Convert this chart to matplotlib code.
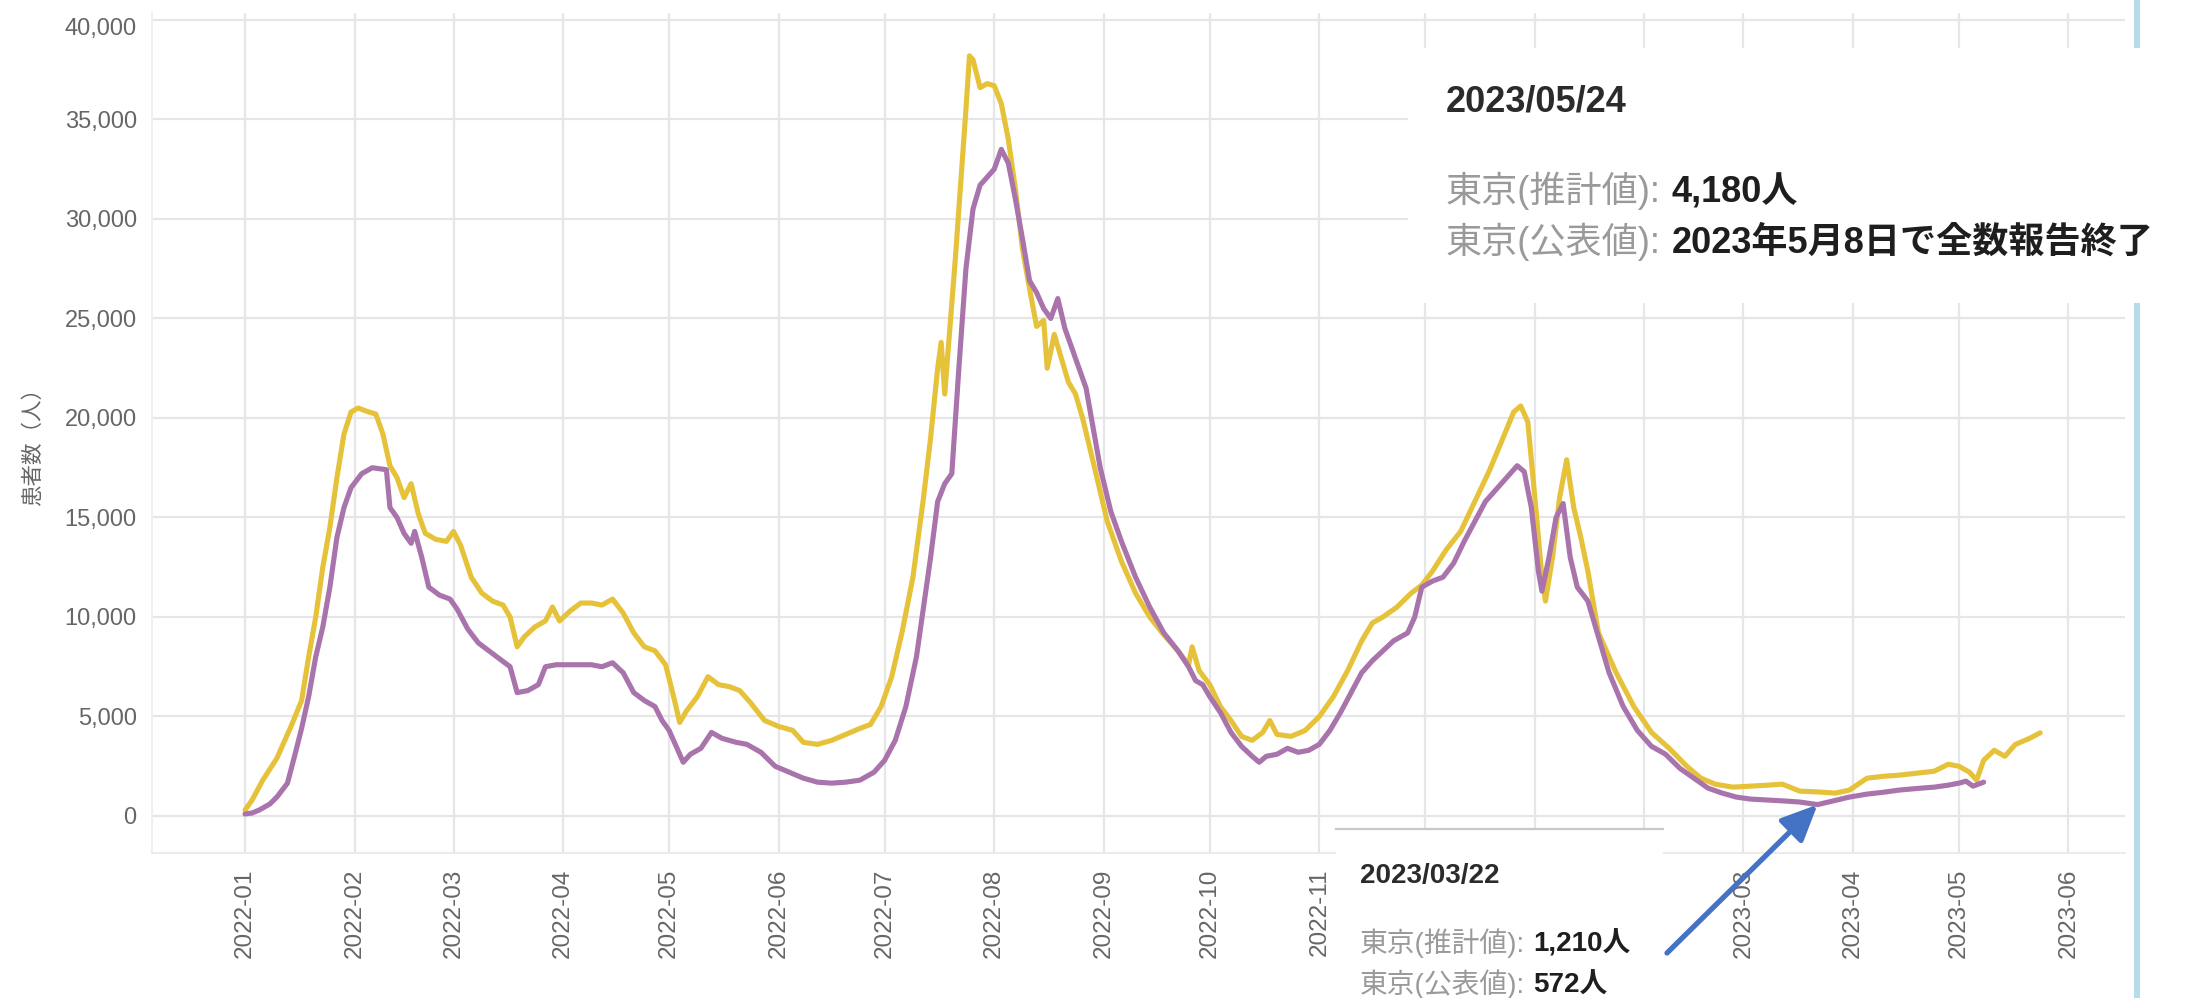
import matplotlib
matplotlib.use("Agg")
import matplotlib.pyplot as plt
import matplotlib.dates as mdates
from matplotlib.patches import Rectangle
from matplotlib.lines import Line2D
from matplotlib.text import Annotation
from matplotlib.ticker import FuncFormatter
from matplotlib.transforms import ScaledTranslation
import pandas as pd

FONTS = ["Liberation Sans", "Noto Sans CJK JP", "DejaVu Sans"]
plt.rcParams["font.family"] = FONTS

START = pd.Timestamp("2022-01-01")

# 東京(推計値): day offset from 2022-01-01 and patient count
est_days = [0, 2, 5, 9, 13, 16, 18, 20, 22, 24, 26, 28, 30, 32, 35, 37, 39, 41, 43, 45,
            47, 49, 51, 54, 57, 59, 61, 64, 67, 70, 73, 75, 77, 79, 82, 85, 87, 89, 92, 95,
            98, 101, 104, 107, 110, 113, 116, 119, 121, 123, 125, 128, 131, 134, 137, 140,
            143, 147, 151, 155, 158, 162, 166, 170, 174, 177, 180, 183, 186, 189, 192, 194,
            196, 197, 198, 199, 201, 203, 204, 205, 206, 208, 210, 212, 214, 216, 218, 220,
            222, 224, 226, 227, 229, 231, 233, 235, 237, 240, 244, 248, 252, 256, 260, 264,
            267, 268, 270, 273, 276, 279, 282, 285, 288, 290, 292, 296, 300, 304, 308, 312,
            316, 319, 322, 326, 330, 333, 336, 340, 344, 348, 352, 356, 359, 361, 363, 365,
            367, 368, 370, 372, 374, 376, 378, 380, 383, 388, 393, 398, 403, 408, 412, 416,
            421, 426, 431, 435, 440, 445, 450, 454, 459, 464, 468, 473, 478, 482, 485, 488,
            490, 492, 495, 498, 501, 505, 508]
est_vals = [300, 800, 1800, 2900, 4500, 5800, 8000, 10000, 12500, 14500, 17000, 19200, 20300,
            20500, 20300, 20200, 19200, 17600, 17000, 16000, 16700, 15200, 14200, 13900, 13800,
            14300, 13600, 12000, 11200, 10800, 10600, 10000, 8500, 9000, 9500, 9800, 10500,
            9800, 10300, 10700, 10700, 10600, 10900, 10200, 9200, 8500, 8300, 7600, 6200, 4700,
            5300, 6000, 7000, 6600, 6500, 6300, 5700, 4800, 4500, 4300, 3700, 3600, 3800, 4100,
            4400, 4600, 5500, 7000, 9300, 12000, 16000, 19000, 22500, 23800, 21200, 23500,
            28000, 33000, 35500, 38200, 38000, 36600, 36800, 36700, 35800, 34000, 31500, 28500,
            26500, 24600, 24900, 22500, 24200, 23000, 21800, 21200, 20000, 17800, 14800, 12800,
            11200, 10000, 9100, 8300, 7600, 8500, 7300, 6600, 5500, 4800, 4000, 3800, 4200,
            4800, 4100, 4000, 4300, 5000, 6000, 7300, 8800, 9700, 10000, 10500, 11200, 11600,
            12300, 13400, 14300, 15800, 17300, 19000, 20300, 20600, 19800, 16000, 12000, 10800,
            13000, 16000, 17900, 15500, 14000, 12300, 9200, 7200, 5500, 4200, 3400, 2500, 1900,
            1600, 1450, 1500, 1550, 1600, 1250, 1210, 1150, 1300, 1900, 2000, 2050, 2150, 2250,
            2600, 2500, 2200, 1800, 2800, 3300, 3000, 3600, 3900, 4180]

# 東京(公表値): day offset from 2022-01-01 and patient count
pub_days = [0, 2, 4, 7, 9, 12, 14, 16, 18, 20, 22, 24, 26, 28, 30, 33, 36, 40, 41, 43, 45,
            47, 48, 50, 52, 55, 58, 60, 63, 66, 69, 72, 75, 77, 80, 83, 85, 88, 93, 98, 101,
            104, 107, 110, 113, 116, 118, 120, 122, 124, 126, 129, 132, 135, 139, 142, 146,
            150, 154, 158, 162, 166, 170, 174, 178, 181, 184, 187, 190, 192, 194, 196, 198,
            200, 202, 204, 206, 208, 210, 212, 214, 216, 218, 220, 222, 224, 226, 228, 230,
            232, 234, 236, 238, 240, 242, 245, 248, 252, 256, 260, 264, 267, 269, 271, 273,
            276, 279, 282, 285, 287, 289, 292, 295, 298, 301, 304, 307, 310, 313, 316, 319,
            322, 325, 329, 331, 333, 336, 339, 342, 345, 348, 351, 354, 357, 360, 362, 364,
            366, 367, 369, 371, 373, 375, 377, 380, 383, 386, 390, 394, 398, 402, 406, 410,
            414, 418, 422, 426, 431, 436, 440, 445, 450, 454, 459, 464, 468, 473, 478, 482,
            485, 487, 489, 492]
pub_vals = [100, 150, 300, 600, 950, 1650, 3000, 4400, 6000, 8000, 9500, 11500, 14000, 15500,
            16500, 17200, 17500, 17400, 15500, 15000, 14200, 13700, 14300, 13000, 11500, 11100,
            10900, 10400, 9400, 8700, 8300, 7900, 7500, 6200, 6300, 6600, 7500, 7600, 7600,
            7600, 7500, 7700, 7200, 6200, 5800, 5500, 4800, 4300, 3500, 2700, 3100, 3400, 4200,
            3900, 3700, 3600, 3200, 2500, 2200, 1900, 1700, 1650, 1700, 1800, 2200, 2800, 3800,
            5500, 8000, 10500, 13000, 15800, 16700, 17200, 22500, 27500, 30500, 31700, 32100,
            32500, 33500, 32800, 31000, 29000, 26900, 26300, 25500, 25000, 26000, 24500, 23500,
            22500, 21500, 19500, 17500, 15300, 13800, 12000, 10500, 9200, 8300, 7500, 6800,
            6600, 6000, 5200, 4200, 3500, 3000, 2700, 3000, 3100, 3400, 3200, 3300, 3600, 4300,
            5200, 6200, 7200, 7800, 8300, 8800, 9200, 10000, 11500, 11800, 12000, 12700, 13800,
            14800, 15800, 16400, 17000, 17600, 17300, 15500, 12300, 11300, 13000, 15000, 15700,
            13000, 11500, 10800, 9000, 7200, 5500, 4300, 3500, 3100, 2400, 1900, 1400, 1150,
            950, 850, 800, 750, 700, 572, 780, 950, 1100, 1200, 1300, 1380, 1450, 1550, 1650,
            1750, 1500, 1700]

month_ticks = pd.date_range("2022-01-01", "2023-06-01", freq="MS")
y_ticks = list(range(0, 40001, 5000))

series_names = ["東京(推計値)", "東京(公表値)"]
y_label = "患者数（人）"
public_end_note = "2023年5月8日で全数報告終了"
tip_late_day = 508
tip_early_day = 445

YELLOW = "#e6c23a"
PURPLE = "#a874ab"
GRID = "#e6e6e6"
TICK = "#666666"

W, H = 2196, 998


def fx(px):
    return px / W


def fy(py):
    return 1 - py / H


def to_dates(days):
    return START + pd.to_timedelta(days, unit="D")


fig = plt.figure(figsize=(W / 100, H / 100), dpi=100)
fig.patch.set_facecolor("white")
ax = fig.add_axes([fx(152), fy(853), (2125 - 152) / W, (853 - 13) / H])

ax.plot(to_dates(est_days), est_vals, color=YELLOW, lw=3.7, solid_joinstyle="round",
        solid_capstyle="round", zorder=3)
ax.plot(to_dates(pub_days), pub_vals, color=PURPLE, lw=3.7, solid_joinstyle="round",
        solid_capstyle="round", zorder=4)

ax.set_xlim(pd.Timestamp("2021-12-05 16:00"), pd.Timestamp("2023-06-17"))
ax.set_ylim(-1860, 40350)
ax.set_xticks(month_ticks)
ax.xaxis.set_major_formatter(mdates.DateFormatter("%Y-%m"))
ax.set_yticks(y_ticks)
ax.yaxis.set_major_formatter(FuncFormatter(lambda v, p: f"{int(v):,}"))
ax.tick_params(axis="both", length=0, colors=TICK)
ax.tick_params(axis="y", labelsize=17, pad=11)
ax.tick_params(axis="x", labelsize=17.5, pad=11, labelrotation=90)
ax.grid(True, color=GRID, lw=1.6)
ax.set_axisbelow(True)
for side in ["top", "right"]:
    ax.spines[side].set_visible(False)
ax.spines["bottom"].set_color("#ebebeb")
ax.spines["left"].set_color("#f0f0f0")
ax.spines["bottom"].set_linewidth(1.4)
ax.spines["left"].set_linewidth(1.4)

# the topmost value label sits a little below its gridline
top_tick = ax.yaxis.get_major_ticks()[-1]
top_tick.label1.set_transform(top_tick.label1.get_transform()
                              + ScaledTranslation(0, -7 / 100, fig.dpi_scale_trans))

fig.text(fx(34), fy(442), y_label, rotation=90, ha="center", va="center",
         fontsize=15.5, color="#666666")

# light blue frame edge on the right
fig.add_artist(Rectangle((fx(2134), 0), 6 / W, 1, transform=fig.transFigure,
                         facecolor="#b5dcea", edgecolor="none", zorder=5))


def tooltip(x0, title_base, row_bases, size, day_label, rows):
    fig.text(fx(x0), fy(title_base), day_label, fontsize=size, fontweight="bold",
             color="#2b2b2b", va="baseline", zorder=22)
    for base, (name, value) in zip(row_bases, rows):
        lab = fig.text(fx(x0), fy(base), name + ":", fontsize=size, color="#9a9a9a",
                       va="baseline", zorder=22)
        val = Annotation(value, xy=(1, 0), xycoords=lab, xytext=(size * 0.3, 0),
                         textcoords="offset points", ha="left", va="bottom",
                         fontsize=size, fontweight="bold", color="#1e1e1e",
                         annotation_clip=False, zorder=22)
        fig.add_artist(val)


# tooltip for the last estimated day
i_late = est_days.index(tip_late_day)
late_date = to_dates([tip_late_day])[0]
fig.add_artist(Rectangle((fx(1408), fy(303)), (W - 1408) / W + 0.01, (303 - 48) / H,
                         transform=fig.transFigure, facecolor="white", edgecolor="none",
                         zorder=20))
tooltip(1446, 112, [202, 253], 26, late_date.strftime("%Y/%m/%d"),
        [(series_names[0], f"{est_vals[i_late]:,}人"),
         (series_names[1], public_end_note)])

# tooltip for 2023/03/22
box_left, box_right = 1336, 1663
i_e = est_days.index(tip_early_day)
i_p = pub_days.index(tip_early_day)
early_date = to_dates([tip_early_day])[0]
fig.add_artist(Rectangle((fx(box_left), 0), (box_right - box_left) / W, (998 - 829) / H,
                         transform=fig.transFigure, facecolor="white", edgecolor="none",
                         zorder=20))
fig.add_artist(Line2D([fx(box_left), fx(box_right)], [fy(829), fy(829)],
                      transform=fig.transFigure, color="#c8c8c8", lw=1.6, zorder=21))
tooltip(1360, 883, [952, 993], 20, early_date.strftime("%Y/%m/%d"),
        [(series_names[0], f"{est_vals[i_e]:,}人"),
         (series_names[1], f"{pub_vals[i_p]:,}人")])

# month labels lying under the lower tooltip are not shown
for tick, d in zip(ax.xaxis.get_major_ticks(), month_ticks):
    px = ax.transData.transform((mdates.date2num(d), 0))[0]
    if box_left < px < box_right:
        tick.label1.set_visible(False)

# arrow pointing at the published value on 2023/03/22
arrow = Annotation("", xy=(mdates.date2num(early_date), pub_vals[i_p]), xycoords=ax.transData,
                   xytext=(fx(1667), fy(953)), textcoords="figure fraction",
                   arrowprops=dict(arrowstyle="-|>,head_length=1.1,head_width=0.5",
                                   color="#4472c4", lw=3.8, shrinkA=0, shrinkB=0,
                                   mutation_scale=20),
                   annotation_clip=False, zorder=23)
fig.add_artist(arrow)

fig.savefig("out.png", dpi=100, facecolor="white")
